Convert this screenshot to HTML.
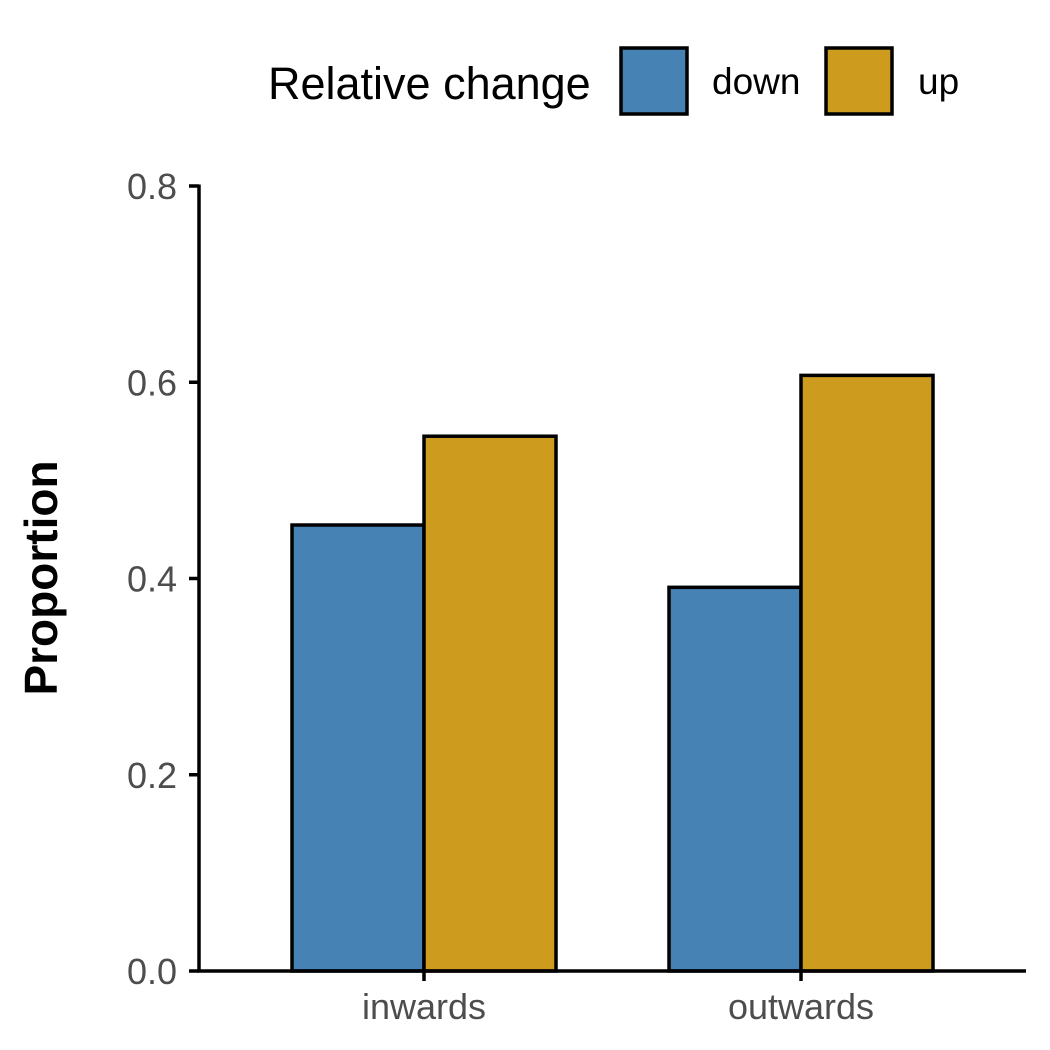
<!DOCTYPE html>
<html>
<head>
<meta charset="utf-8">
<style>
html,body{margin:0;padding:0;background:#fff;}
svg{display:block;font-family:"Liberation Sans",Arial,sans-serif;}
</style>
</head>
<body>
<svg id="chart" width="1050" height="1050" viewBox="0 0 1050 1050">
  <g id="legend">
    <text x="268" y="99" font-size="45" fill="#000">Relative change</text>
    <rect x="621" y="48" width="66" height="66" fill="#4682B4" stroke="#000" stroke-width="3.5"/>
    <text x="712" y="94" font-size="37" fill="#000">down</text>
    <rect x="826" y="48" width="66" height="66" fill="#CD9B1D" stroke="#000" stroke-width="3.5"/>
    <text x="918" y="94" font-size="37" fill="#000">up</text>
  </g>
  <g id="bars"></g>
  <g id="axes"></g>
  <text transform="translate(57,578) rotate(-90)" text-anchor="middle" font-size="46" font-weight="bold" fill="#000">Proportion</text>
</svg>
<script>
const categories = ["inwards", "outwards"];
const seriesNames = ["down", "up"];
const downValues = [0.4545, 0.391];
const upValues = [0.545, 0.607];
const yTicks = [0.0, 0.2, 0.4, 0.6, 0.8];
const yTickLabels = ["0.0", "0.2", "0.4", "0.6", "0.8"];

const NS = "http://www.w3.org/2000/svg";
const y0 = 971, y1 = 186, vmax = 0.8;
function yScale(v){ return y0 - (v / vmax) * (y0 - y1); }
const xStart = 424, xStep = 377, barW = 132;
function xCenter(i){ return xStart + i * xStep; }
const colors = ["#4682B4", "#CD9B1D"];
const bars = document.getElementById("bars");
const axes = document.getElementById("axes");

[downValues, upValues].forEach((vals, s) => {
  vals.forEach((v, i) => {
    const r = document.createElementNS(NS, "rect");
    const x = xCenter(i) + (s === 0 ? -barW : 0);
    r.setAttribute("x", x);
    r.setAttribute("y", yScale(v));
    r.setAttribute("width", barW);
    r.setAttribute("height", y0 - yScale(v));
    r.setAttribute("fill", colors[s]);
    r.setAttribute("stroke", "#000");
    r.setAttribute("stroke-width", "3.5");
    
    
    bars.appendChild(r);
  });
});

function line(x1, yA, x2, yB, name){
  const l = document.createElementNS(NS, "line");
  l.setAttribute("x1", x1); l.setAttribute("y1", yA);
  l.setAttribute("x2", x2); l.setAttribute("y2", yB);
  l.setAttribute("stroke", "#000"); l.setAttribute("stroke-width", "3.5");
  
  
  axes.appendChild(l);
}
line(199, yScale(vmax) - 1.5, 199, y0 + 1.5, "y-axis-line");
line(197, y0, 1026, y0, "x-axis-line");

yTicks.forEach((t, i) => {
  const yy = yScale(t);
  line(189, yy, 199, yy, "y-tick");
  const tx = document.createElementNS(NS, "text");
  tx.setAttribute("x", 177); tx.setAttribute("y", yy + 13);
  tx.setAttribute("text-anchor", "end"); tx.setAttribute("font-size", "36");
  tx.setAttribute("fill", "#4d4d4d");
  tx.textContent = yTickLabels[i];
  
  
  axes.appendChild(tx);
});

categories.forEach((c, i) => {
  const xx = xCenter(i);
  line(xx, y0, xx, y0 + 10, "x-tick");
  const tx = document.createElementNS(NS, "text");
  tx.setAttribute("x", xx); tx.setAttribute("y", 1019);
  tx.setAttribute("text-anchor", "middle"); tx.setAttribute("font-size", "36");
  tx.setAttribute("fill", "#4d4d4d");
  tx.textContent = c;
  
  
  axes.appendChild(tx);
});
</script>
</body>
</html>
